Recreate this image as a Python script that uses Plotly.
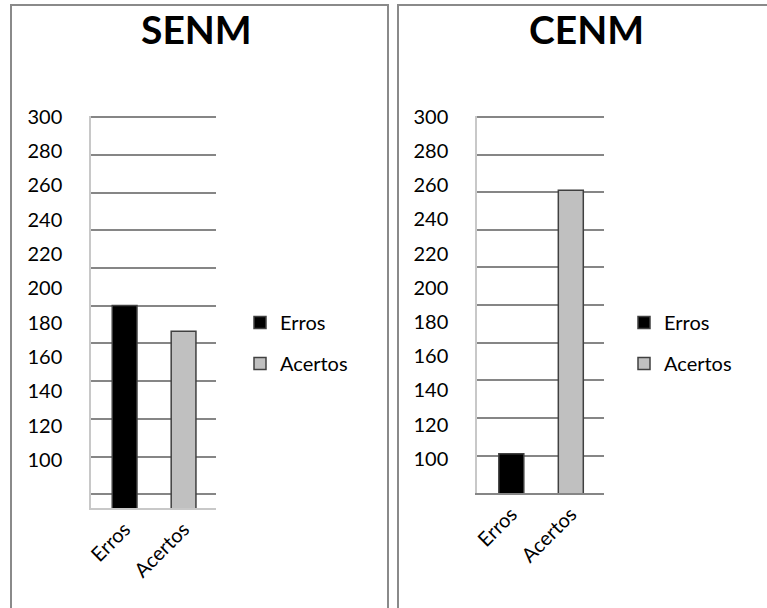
import plotly.graph_objects as go

categories = ["Erros", "Acertos"]
senm_values = [190, 175]
cenm_values = [103, 257]
panel_titles = ["SENM", "CENM"]
tick_labels = [100, 120, 140, 160, 180, 200, 220, 240, 260, 280, 300]

bar_colors = ["#000000", "#c0c0c0"]
FONT = "Lato"
W, H = 767, 608

fig = go.Figure()

# one trace per bar so every bar gets its own legend entry (like the Excel original)
for panel, (vals, xa, ya, leg) in enumerate([(senm_values, "x", "y", "legend"),
                                             (cenm_values, "x2", "y2", "legend2")]):
    for i, cat in enumerate(categories):
        fig.add_trace(go.Bar(
            x=[cat], y=[vals[i]], name=cat,
            marker=dict(color=bar_colors[i], line=dict(color="#404040", width=1.5)),
            width=0.42, xaxis=xa, yaxis=ya, legend=leg,
            legendgroup=f"{panel}-{cat}", showlegend=True,
        ))

yax = dict(
    tickmode="array", tickvals=tick_labels, ticks="", showgrid=False,
    showline=True, linecolor="#c8c8c8", linewidth=1.5, automargin=False,
    ticklabelstandoff=23, tickfont=dict(family=FONT, size=20, color="#000"),
    # excel drew its gridlines off the label positions, every 22 units from the top
    minor=dict(tick0=299.9, dtick=22, showgrid=True, gridcolor="#868686", gridwidth=2, ticks=""),
    zeroline=False,
)
xax = dict(
    tickangle=-45, ticks="", showgrid=False, showline=True, linewidth=1.5, automargin=False,
    tickfont=dict(family=FONT, size=20, color="#000"), range=[-0.57, 1.55],
)

fig.update_layout(
    width=W, height=H, margin=dict(l=0, r=0, t=0, b=0, pad=0, autoexpand=False),
    paper_bgcolor="white", plot_bgcolor="white", barmode="overlay",
    xaxis=dict(xax, domain=[91 / W, 216 / W], anchor="y", linecolor="#c8c8c8"),
    yaxis=dict(yax, domain=[1 - 508 / H, 1 - 116 / H], anchor="x", range=[72, 300.5]),
    xaxis2=dict(xax, domain=[477 / W, 604 / W], anchor="y2", linecolor="#868686",
                range=[-0.577, 1.558]),
    yaxis2=dict(yax, domain=[1 - 493 / H, 1 - 116 / H], anchor="x2", range=[80, 300.5]),
    legend=dict(x=240 / W, y=1 - 303 / H, xanchor="left", yanchor="top",
                font=dict(family=FONT, size=20, color="#000"), tracegroupgap=12,
                bgcolor="rgba(0,0,0,0)"),
    legend2=dict(x=624 / W, y=1 - 303 / H, xanchor="left", yanchor="top",
                 font=dict(family=FONT, size=20, color="#000"), tracegroupgap=12,
                 bgcolor="rgba(0,0,0,0)"),
    showlegend=True,
)

# chart titles
for t, cx in zip(panel_titles, [196, 586]):
    fig.add_annotation(text=f"<b>{t}</b>", x=cx / W, y=1 - 29 / H, xref="paper", yref="paper",
                       xanchor="center", yanchor="middle", showarrow=False,
                       font=dict(family=FONT, size=39, color="#000"))

# chart area borders (kept inside the paper so the page doesn't overflow)
top = 1 - 5 / H
border = dict(color="#8a8a8a", width=2)
fig.add_shape(type="path", xref="paper", yref="paper", line=border,
              path=f"M {11 / W} 0 L {11 / W} {top} L {388 / W} {top} L {388 / W} 0")
fig.add_shape(type="path", xref="paper", yref="paper", line=border,
              path=f"M {398 / W} 0 L {398 / W} {top} L 1 {top}")

fig.write_html("out.html", config={"displayModeBar": False},
               post_script="document.body.style.margin='0';")
